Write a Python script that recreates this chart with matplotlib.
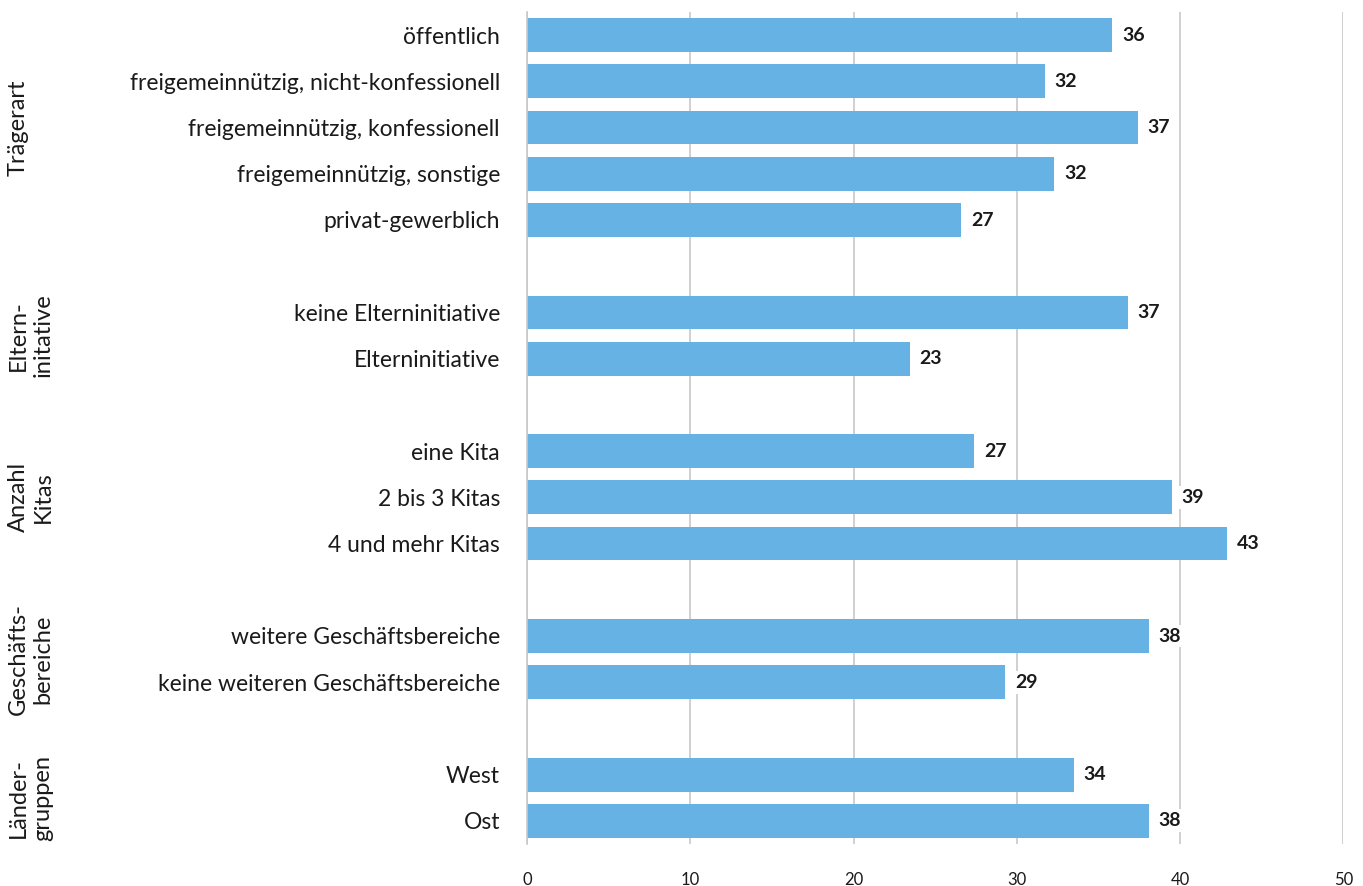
import matplotlib
matplotlib.use("Agg")
import matplotlib.pyplot as plt

plt.rcParams['font.family'] = ['Lato', 'DejaVu Sans']

groups = ["Trägerart", "Eltern-\ninitative", "Anzahl\nKitas", "Geschäfts-\nbereiche", "Länder-\ngruppen"]
categories = [
    ["öffentlich", "freigemeinnützig, nicht-konfessionell", "freigemeinnützig, konfessionell",
     "freigemeinnützig, sonstige", "privat-gewerblich"],
    ["keine Elterninitiative", "Elterninitiative"],
    ["eine Kita", "2 bis 3 Kitas", "4 und mehr Kitas"],
    ["weitere Geschäftsbereiche", "keine weiteren Geschäftsbereiche"],
    ["West", "Ost"],
]
values = [
    [35.85, 31.7, 37.4, 32.3, 26.6],
    [36.8, 23.45],
    [27.4, 39.5, 42.9],
    [38.1, 29.3],
    [33.5, 38.1],
]
value_labels = [
    [36, 32, 37, 32, 27],
    [37, 23],
    [27, 39, 43],
    [38, 29],
    [34, 38],
]
xticks = [0, 10, 20, 30, 40, 50]

BAR = "#66b2e4"
TXT = "#1a1a1a"
GRID = "#c8c8c8"

W, H = 1363, 886
fig = plt.figure(figsize=(W / 100, H / 100), dpi=100)
ax = fig.add_axes([527 / W, 1 - 844 / H, (1343.3 - 527) / W, (844 - 12) / H])

ypos, labels, vals, vlabs, group_centers = [], [], [], [], []
row = 0
for cats, vs, ls in zip(categories, values, value_labels):
    start = row
    for c, v, l in zip(cats, vs, ls):
        ypos.append(row)
        labels.append(c)
        vals.append(v)
        vlabs.append(l)
        row += 1
    group_centers.append((start + row - 1) / 2)
    row += 1

ax.barh(ypos, vals, height=0.73, color=BAR, zorder=2)
for y, v, l in zip(ypos, vals, vlabs):
    ax.text(v + 0.6, y, f"{l:d}", va="center", ha="left", fontsize=14,
            fontweight="bold", color=TXT, zorder=3,
            bbox=dict(boxstyle="square,pad=0.15", fc="white", ec="none"))

ax.set_xlim(0, 50)
ax.set_ylim(17.5, -0.5)
ax.set_xticks(xticks)
ax.set_xticklabels([str(t) for t in xticks], fontsize=12, color=TXT)
ax.set_yticks(ypos)
ax.set_yticklabels(labels, fontsize=16.5, color=TXT)
ax.tick_params(axis="both", length=0)
ax.tick_params(axis="y", pad=19.5)
ax.tick_params(axis="x", pad=20)
ax.grid(axis="x", color=GRID, linewidth=1.2, zorder=0)
for s in ["top", "right", "bottom"]:
    ax.spines[s].set_visible(False)
ax.spines["left"].set_color(GRID)
ax.spines["left"].set_linewidth(1.2)

# group labels
for g, c in zip(groups, group_centers):
    yd = ax.transData.transform((0, c))[1]
    yf = fig.transFigure.inverted().transform((0, yd))[1]
    fig.text(8 / W, yf, g, rotation=90, ha="left", va="center", fontsize=17,
             color=TXT, multialignment="center", linespacing=1.2)

fig.savefig("out.png", dpi=100)
